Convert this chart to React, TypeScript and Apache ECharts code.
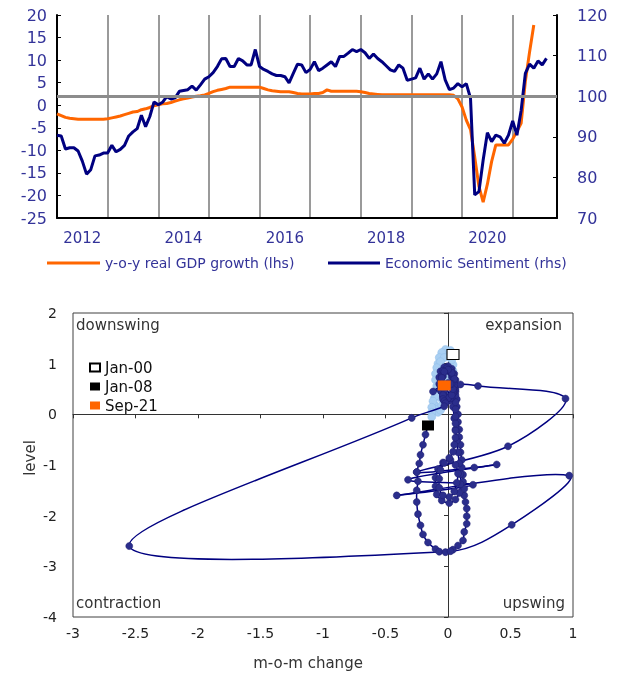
import React, { useEffect, useRef } from 'react';
import * as echarts from 'echarts';

// ---------- Top chart data (monthly, from Jan 2012) ----------
const sentiment = [
  90.4, 90.2, 87.0, 87.3, 87.3, 86.5, 84.0, 80.8, 81.9, 85.3, 85.5, 86.0,
  86.0, 87.9, 86.3, 86.9, 87.9, 90.2, 91.2, 92.0, 95.3, 92.5, 95.0, 98.6,
  97.9, 98.5, 99.9, 99.3, 99.6, 101.2, 101.4, 101.6, 102.5, 101.5, 102.8, 104.2,
  104.8, 105.8, 107.3, 109.2, 109.3, 107.3, 107.3, 109.3, 108.7, 107.7, 107.7, 111.5,
  107.3, 106.6, 106.1, 105.5, 105.1, 105.1, 104.8, 103.3, 105.6, 107.9, 107.7, 105.8,
  106.6, 108.5, 106.3, 106.9, 107.7, 108.5, 107.3, 109.8, 109.8, 110.6, 111.5, 111.0,
  111.5, 110.7, 109.3, 110.4, 109.3, 108.5, 107.5, 106.5, 106.1, 107.7, 106.9, 103.9,
  104.2, 104.5, 106.9, 104.2, 105.5, 104.2, 105.5, 108.5, 104.0, 101.6, 102.0, 103.1,
  102.3, 103.1, 99.5, 75.7, 76.5, 84.3, 91.0, 88.8, 90.4, 90.0, 88.4, 90.4,
  93.9, 90.4, 96.5, 105.6, 107.9, 106.9, 108.7, 107.7, 109.3
];

const gdpGrowth = [
  -1.9, -2.3, -2.7, -2.9, -3.0, -3.1, -3.1, -3.1, -3.1, -3.1, -3.1, -3.1,
  -3.0, -2.8, -2.6, -2.4, -2.1, -1.8, -1.5, -1.4, -1.0, -0.8, -0.5, -0.1,
  0.1, 0.3, 0.4, 0.6, 0.9, 1.2, 1.4, 1.6, 1.8, 2.0, 2.1, 2.3,
  2.6, 3.0, 3.3, 3.5, 3.7, 4.0, 4.0, 4.0, 4.0, 4.0, 4.0, 4.0,
  4.0, 3.7, 3.4, 3.2, 3.1, 3.0, 3.0, 3.0, 2.8, 2.6, 2.5, 2.5,
  2.5, 2.6, 2.6, 2.8, 3.4, 3.1, 3.1, 3.1, 3.1, 3.1, 3.1, 3.1,
  3.0, 2.8, 2.6, 2.5, 2.4, 2.3, 2.3, 2.3, 2.3, 2.3, 2.3, 2.3,
  2.3, 2.3, 2.3, 2.3, 2.3, 2.3, 2.3, 2.3, 2.3, 2.3, 2.2, 1.4,
  -0.4, -3.3, -5.4, -11.5, -18.0, -21.5, -17.5, -12.5, -8.8, -8.8, -8.8, -8.8,
  -7.5, -5.8, -4.0, 5.3, 11.8, 17.8
];

const yearLabels = ['2012', '2014', '2016', '2018', '2020'];
const topLegend = ['y-o-y real GDP growth (lhs)', 'Economic Sentiment (rhs)'];

// ---------- Bottom chart data: [m-o-m change, level] ----------
// Jan 2000 - Dec 2007
const lightPath = [
  [0.04, 1.18], [0.02, 1.26], [-0.02, 1.28], [-0.05, 1.22], [-0.07, 1.12], [-0.08, 1.0],
  [-0.08, 0.88], [-0.07, 0.76], [-0.05, 0.66], [-0.02, 0.6], [0.01, 0.64], [0.03, 0.74],
  [0.04, 0.86], [0.04, 0.98], [0.03, 1.08], [0.0, 1.14], [-0.03, 1.12], [-0.06, 1.04],
  [-0.09, 0.92], [-0.1, 0.8], [-0.1, 0.68], [-0.09, 0.56], [-0.07, 0.46], [-0.04, 0.4],
  [-0.01, 0.42], [0.01, 0.5], [0.02, 0.6], [0.01, 0.7], [-0.02, 0.72], [-0.05, 0.66],
  [-0.08, 0.56], [-0.1, 0.44], [-0.11, 0.32], [-0.11, 0.2], [-0.1, 0.1], [-0.08, 0.04],
  [-0.06, 0.08], [-0.05, 0.18], [-0.05, 0.3], [-0.06, 0.4], [-0.08, 0.42], [-0.1, 0.36],
  [-0.12, 0.26], [-0.13, 0.14], [-0.13, 0.04], [-0.13, -0.05]
];

// Jan 2008 - Sep 2021
const darkPath = [
  [-0.16, -0.22], [-0.18, -0.4], [-0.2, -0.6], [-0.22, -0.8], [-0.23, -0.97], [-0.25, -1.14],
  [-0.24, -1.32], [-0.25, -1.5], [-0.25, -1.73], [-0.24, -1.97], [-0.22, -2.19], [-0.2, -2.37],
  [-0.16, -2.53], [-0.1, -2.66], [-0.07, -2.71], [-0.02, -2.72], [0.04, -2.67],
  [0.08, -2.59], [0.12, -2.49], [0.13, -2.32], [0.15, -2.16], [0.15, -2.01], [0.15, -1.86],
  [0.14, -1.73], [0.13, -1.6], [0.13, -1.47], [0.12, -1.33], [0.12, -1.19], [0.11, -1.05],
  [0.11, -0.9], [0.1, -0.75], [0.1, -0.6], [0.09, -0.45], [0.09, -0.3], [0.08, -0.15],
  [0.08, 0.0], [0.07, 0.15], [0.07, 0.3], [0.06, 0.45], [0.05, 0.6],
  [0.03, 0.74], [0.01, 0.84], [-0.02, 0.86], [-0.04, 0.75], [-0.02, 0.55], [0.02, 0.35],
  [0.04, 0.15], [0.05, -0.08], [0.06, -0.3], [0.07, -0.52], [0.08, -0.75], [0.09, -0.97],
  [0.1, -1.18], [0.1, -1.38],
  [0.09, -1.55], [0.06, -1.68], [0.01, -1.75], [-0.05, -1.7], [-0.09, -1.58], [-0.1, -1.42],
  [-0.1, -1.25], [-0.08, -1.08], [-0.04, -0.95], [0.02, -0.9], [0.06, -1.0], [0.08, -1.17],
  [0.07, -1.35], [0.05, -1.52], [0.01, -1.63], [-0.04, -1.6], [-0.07, -1.45], [-0.07, -1.27],
  [-0.06, -1.1], [-0.03, -0.96], [0.01, -0.86], [0.04, -0.74], [0.05, -0.6], [0.06, -0.46],
  [0.06, -0.32], [0.06, -0.18], [0.06, -0.04], [0.06, 0.1], [0.06, 0.24], [0.06, 0.38],
  [0.06, 0.5], [0.05, 0.62], [0.04, 0.74], [0.02, 0.84], [0.0, 0.9], [-0.03, 0.88],
  [-0.05, 0.8], [-0.06, 0.68], [-0.06, 0.56], [-0.05, 0.44], [-0.04, 0.34], [-0.02, 0.28],
  [0.01, 0.27], [0.03, 0.33], [0.05, 0.44], [0.06, 0.56], [0.06, 0.68], [0.05, 0.8],
  [0.03, 0.9], [0.0, 0.95],
  [-0.03, 0.93], [-0.06, 0.85], [-0.07, 0.73], [-0.07, 0.6], [-0.06, 0.47], [-0.04, 0.36],
  [-0.01, 0.3], [0.02, 0.32], [0.04, 0.42], [0.05, 0.54], [0.05, 0.66], [0.04, 0.78],
  [0.02, 0.87], [-0.01, 0.91], [-0.04, 0.86], [-0.05, 0.75], [-0.05, 0.62], [-0.04, 0.5],
  [-0.03, 0.4], [-0.01, 0.33],
  [0.02, 0.36], [0.04, 0.46], [0.05, 0.58], [0.05, 0.7], [0.03, 0.82], [0.0, 0.88],
  [-0.03, 0.84], [-0.05, 0.72], [-0.06, 0.58], [-0.05, 0.45], [-0.03, 0.36], [0.0, 0.32],
  [0.03, 0.38], [0.04, 0.5], [0.03, 0.6], [0.0, 0.58], [-0.03, 0.48], [-0.04, 0.38],
  [-0.04, 0.3], [-0.03, 0.26],
  [-0.02, 0.22], [-0.03, 0.16], [-0.29, -0.07],
  [-2.55, -2.6], [0.02, -2.7], [0.51, -2.18], [0.97, -1.21], [-0.41, -1.6], [0.2, -1.39],
  [-0.32, -1.29], [0.39, -0.99], [0.21, -1.05], [-0.25, -1.14], [0.48, -0.63], [0.94, 0.31],
  [0.24, 0.56], [0.1, 0.59], [-0.12, 0.45], [0.0, 0.62], [0.02, 0.6], [-0.03, 0.57]
];

const markerLabels = ['Jan-00', 'Jan-08', 'Sep-21'];
const quadrantLabels = ['downswing', 'expansion', 'contraction', 'upswing'];
const axisTitles = ['m-o-m change', 'level'];

const FONT = 'DejaVu Sans';
const SLATE = '#333399';

// Smooth segment between consecutive points (tangents scaled by segment length),
// positioned through the axis scales with api.coord
const makeCurve = (path: number[][], color: string, width: number) => (params: any, api: any) => {
  const i = params.dataIndex;
  const n = path.length;
  if (i >= n - 1) return null;
  const p0 = api.coord(path[Math.max(i - 1, 0)]);
  const p1 = api.coord(path[i]);
  const p2 = api.coord(path[i + 1]);
  const p3 = api.coord(path[Math.min(i + 2, n - 1)]);
  const dist = (a: number[], b: number[]) => Math.hypot(a[0] - b[0], a[1] - b[1]);
  const d01 = dist(p0, p1);
  const d12 = dist(p1, p2);
  const d23 = dist(p2, p3);
  const k1 = d01 + d12 > 0 ? d12 / (d01 + d12) / 3 : 0;
  const k2 = d12 + d23 > 0 ? d12 / (d12 + d23) / 3 : 0;
  return {
    type: 'bezierCurve',
    shape: {
      x1: p1[0], y1: p1[1], x2: p2[0], y2: p2[1],
      cpx1: p1[0] + (p2[0] - p0[0]) * k1, cpy1: p1[1] + (p2[1] - p0[1]) * k1,
      cpx2: p2[0] - (p3[0] - p1[0]) * k2, cpy2: p2[1] - (p3[1] - p1[1]) * k2
    },
    style: { stroke: color, lineWidth: width, fill: null }
  };
};

export default function App() {
  const ref = useRef<HTMLDivElement>(null);

  useEffect(() => {
    const chart = echarts.init(ref.current as HTMLDivElement, null, { renderer: 'svg' });

    const yearFormatter = (v: number) => {
      if ((v - 6) % 24 === 0) {
        const idx = (v - 6) / 24;
        return yearLabels[idx] ?? '';
      }
      return '';
    };

    const option: any = {
      animation: false,
      textStyle: { fontFamily: FONT },
      grid: [
        { left: 57, top: 15, width: 500, height: 203, show: false },
        { left: 73, top: 313, width: 500, height: 304, show: true, borderColor: '#404040', borderWidth: 1 }
      ],
      legend: [
        {
          data: [topLegend[0]], left: 47, top: 256, padding: 0, icon: 'rect',
          itemWidth: 53, itemHeight: 3, selectedMode: false,
          textStyle: { color: SLATE, fontSize: 14, fontFamily: FONT }
        },
        {
          data: [topLegend[1]], left: 328, top: 256, padding: 0, icon: 'rect',
          itemWidth: 52, itemHeight: 3, selectedMode: false,
          textStyle: { color: SLATE, fontSize: 14, fontFamily: FONT }
        },
        {
          data: markerLabels, orient: 'vertical', left: 89, top: 360, padding: 0, icon: 'rect',
          itemWidth: 10, itemHeight: 8, itemGap: 4, selectedMode: false,
          textStyle: { color: '#111', fontSize: 15, fontFamily: FONT }
        }
      ],
      xAxis: [
        {
          gridIndex: 0, type: 'value', min: 0, max: 118.5, interval: 6, position: 'bottom',
          axisLine: { onZero: false, lineStyle: { color: '#000', width: 2 } },
          axisTick: { show: false }, splitLine: { show: false },
          axisLabel: { formatter: yearFormatter, color: SLATE, fontSize: 15, margin: 12, showMaxLabel: false, showMinLabel: false }
        },
        {
          gridIndex: 0, type: 'value', min: 0, max: 118.5, interval: 12, position: 'top',
          axisLine: { show: false, onZero: false }, axisTick: { show: false }, axisLabel: { show: false },
          splitLine: { show: true, showMinLine: false, showMaxLine: false, lineStyle: { color: '#9a9a9a', width: 2 } }
        },
        {
          gridIndex: 1, type: 'value', min: -3, max: 1, interval: 0.5, position: 'bottom',
          axisLine: { show: false, onZero: false }, axisTick: { show: false }, splitLine: { show: false },
          axisLabel: { color: '#222', fontSize: 14, margin: 9 }
        },
        {
          gridIndex: 1, type: 'value', min: -3, max: 1, interval: 0.5, position: 'top',
          axisLine: { show: true, onZero: true, lineStyle: { color: '#333', width: 1 } },
          axisTick: { show: true, inside: true, length: 4, lineStyle: { color: '#333' } },
          axisLabel: { show: false }, splitLine: { show: false }
        }
      ],
      yAxis: [
        {
          gridIndex: 0, type: 'value', position: 'left', min: -25, max: 20, interval: 5,
          axisLine: { show: true, onZero: false, lineStyle: { color: '#000', width: 2 } },
          axisTick: { show: true, inside: true, length: 4, lineStyle: { color: '#000', width: 1 } },
          axisLabel: { color: SLATE, fontSize: 16, margin: 10 }, splitLine: { show: false }
        },
        {
          gridIndex: 0, type: 'value', position: 'right', min: 70, max: 120, interval: 10,
          axisLine: { show: true, onZero: false, lineStyle: { color: '#000', width: 2 } },
          axisTick: { show: true, inside: true, length: 4, lineStyle: { color: '#000', width: 1 } },
          axisLabel: { color: SLATE, fontSize: 16, margin: 20 }, splitLine: { show: false }
        },
        {
          gridIndex: 1, type: 'value', position: 'left', min: -4, max: 2, interval: 1,
          axisLine: { show: false, onZero: false }, axisTick: { show: false },
          axisLabel: { color: '#222', fontSize: 14, margin: 16 }, splitLine: { show: false }
        },
        {
          gridIndex: 1, type: 'value', position: 'right', min: -4, max: 2, interval: 1,
          axisLine: { show: true, onZero: true, lineStyle: { color: '#333', width: 1 } },
          axisTick: { show: true, inside: true, length: 4, lineStyle: { color: '#333' } },
          axisLabel: { show: false }, splitLine: { show: false }
        }
      ],
      series: [
        {
          name: topLegend[0], type: 'line', xAxisIndex: 0, yAxisIndex: 0,
          data: gdpGrowth.map((v, i) => [i, v]),
          showSymbol: false, symbol: 'none', color: '#FF6600',
          lineStyle: { width: 3, color: '#FF6600' }
        },
        {
          name: topLegend[1], type: 'line', xAxisIndex: 0, yAxisIndex: 1,
          data: sentiment.map((v, i) => [i, v]),
          showSymbol: false, symbol: 'none', color: '#000080',
          lineStyle: { width: 3, color: '#000080' },
          markLine: {
            silent: true, symbol: 'none', label: { show: false },
            lineStyle: { color: '#8c8c8c', width: 3, type: 'solid' },
            data: [{ yAxis: 100 }]
          }
        },
        {
          name: 'curve 2000-2007', type: 'custom', xAxisIndex: 2, yAxisIndex: 2,
          data: lightPath, encode: { x: 0, y: 1 }, clip: true, silent: true, z: 2,
          renderItem: makeCurve(lightPath, '#A9CFF2', 1)
        },
        {
          name: '2000-2007', type: 'scatter', xAxisIndex: 2, yAxisIndex: 2, data: lightPath,
          symbol: 'circle', symbolSize: 8, z: 3,
          itemStyle: { color: '#A9CFF2', borderColor: '#90BDE8', borderWidth: 0.5, opacity: 1 }
        },
        {
          name: 'curve 2008-2021', type: 'custom', xAxisIndex: 2, yAxisIndex: 2,
          data: darkPath, encode: { x: 0, y: 1 }, clip: true, silent: true, z: 4,
          renderItem: makeCurve(darkPath, '#000080', 1.5)
        },
        {
          name: '2008-2021', type: 'scatter', xAxisIndex: 2, yAxisIndex: 2, data: darkPath,
          symbol: 'circle', symbolSize: 7, z: 5,
          itemStyle: { color: '#2B2E8C', borderColor: '#1C1C70', borderWidth: 0.5, opacity: 1 }
        },
        {
          name: markerLabels[0], type: 'scatter', xAxisIndex: 2, yAxisIndex: 2, z: 10,
          data: [lightPath[0]], symbol: 'rect', symbolSize: [12, 10],
          itemStyle: { color: '#ffffff', borderColor: '#000', borderWidth: 1, opacity: 1 }
        },
        {
          name: markerLabels[1], type: 'scatter', xAxisIndex: 2, yAxisIndex: 2, z: 10,
          data: [darkPath[0]], symbol: 'rect', symbolSize: [12, 10],
          itemStyle: { color: '#000000', opacity: 1 }
        },
        {
          name: markerLabels[2], type: 'scatter', xAxisIndex: 2, yAxisIndex: 2, z: 10,
          data: [darkPath[darkPath.length - 1]], symbol: 'rect', symbolSize: [13, 10],
          itemStyle: { color: '#FF6600', opacity: 1 }
        }
      ],
      graphic: [
        { type: 'text', left: 76, top: 317, style: { text: quadrantLabels[0], fontSize: 15, fontFamily: FONT, fill: '#333' } },
        { type: 'text', right: 56, top: 317, style: { text: quadrantLabels[1], fontSize: 15, fontFamily: FONT, fill: '#333' } },
        { type: 'text', left: 76, top: 595, style: { text: quadrantLabels[2], fontSize: 15, fontFamily: FONT, fill: '#333' } },
        { type: 'text', right: 53, top: 595, style: { text: quadrantLabels[3], fontSize: 15, fontFamily: FONT, fill: '#333' } },
        {
          type: 'text', x: 308, y: 663,
          style: { text: axisTitles[0], fontSize: 15, fontFamily: FONT, fill: '#333', align: 'center', verticalAlign: 'middle' }
        },
        {
          type: 'text', x: 30, y: 458, rotation: Math.PI / 2,
          style: { text: axisTitles[1], fontSize: 15, fontFamily: FONT, fill: '#333', align: 'center', verticalAlign: 'middle' }
        }
      ]
    };

    chart.setOption(option);
    return () => chart.dispose();
  }, []);

  return <div ref={ref} style={{ position: 'fixed', left: 0, top: 0, width: 618, height: 673 }} />;
}
